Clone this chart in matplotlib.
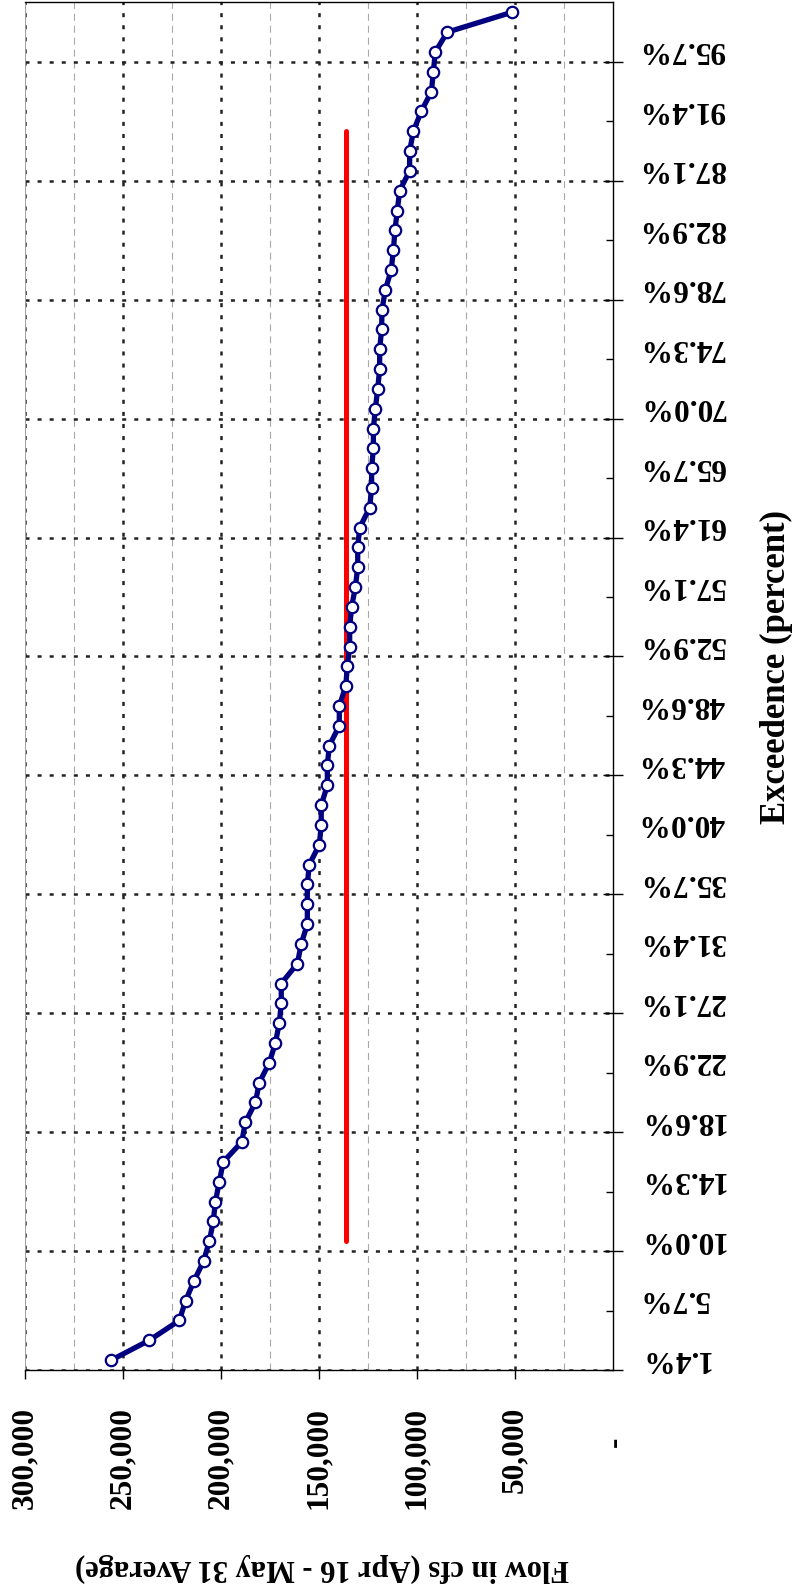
## Flow exceedence chart, drawn sideways (flow runs right-to-left, exceedence bottom-to-top)

import numpy as np
import matplotlib
matplotlib.use('Agg')
from matplotlib import pyplot as plt
from matplotlib.ticker import FixedLocator
from matplotlib.transforms import offset_copy, blended_transform_factory

### Data ###
# Apr 16 - May 31 average flow (cfs), sorted high to low, one value per year
flow = [255800, 236400, 221100, 217900, 213600, 208700, 205800, 203800, 202700, 200700,
        198700, 189300, 187400, 182300, 180300, 175200, 172100, 170100, 169100, 169100,
        160900, 158900, 155800, 155800, 155800, 154800, 149700, 148700, 148700, 145600,
        145600, 144600, 139500, 139500, 136200, 135400, 134200, 134200, 133200, 131300,
        130100, 130100, 129100, 124000, 123000, 123000, 122100, 122100, 121100, 119900,
        118900, 118900, 117900, 117700, 116000, 113000, 111900, 111100, 109900, 108700,
        103600, 103600, 101700, 97700, 92500, 91500, 90500, 84400, 51500]
median_flow = 136200
median_from, median_to = 7, 63      # categories the median line spans (10% .. 90%)

exceed_labels = ['1.4%', '5.7%', '10.0%', '14.3%', '18.6%', '22.9%', '27.1%', '31.4%',
                 '35.7%', '40.0%', '44.3%', '48.6%', '52.9%', '57.1%', '61.4%', '65.7%',
                 '70.0%', '74.3%', '78.6%', '82.9%', '87.1%', '91.4%', '95.7%']
LABEL_EVERY = 3
GRID_EVERY = 6
flow_ticks = [50000, 100000, 150000, 200000, 250000, 300000]
flow_minor = [25000, 75000, 125000, 175000, 225000, 275000]
##############

plt.rcParams['lines.scale_dashes'] = False
plt.rcParams['font.family'] = ['Liberation Serif', 'DejaVu Serif']
plt.rcParams['font.weight'] = 'bold'

n = len(flow)
cat = np.arange(1, n + 1) - 0.5          # category centres (Excel "between tick marks")

fig = plt.figure(figsize=(7.93, 15.92), dpi=100)
ax = fig.add_axes([0.03115, 0.13945, 0.74149, 0.85904])

med_cat = np.arange(median_from, median_to + 1) - 0.5
ax.plot([median_flow] * len(med_cat), med_cat, color='#ff0000', lw=3.6,
        solid_capstyle='round', zorder=3)
ax.plot(flow, cat, color='#000080', lw=3.8, marker='o', ms=8.2, mfc='white',
        mec='#000080', mew=1.6, zorder=4, solid_joinstyle='round')

ax.set_xlim(300000, 0)
ax.set_ylim(0, n)

## ticks
ax.xaxis.set_major_locator(FixedLocator(flow_ticks))
ax.xaxis.set_minor_locator(FixedLocator(flow_minor))
ax.set_xticklabels([f"{v:,}" for v in flow_ticks])
ax.tick_params(axis='x', which='major', direction='out', length=6.5, width=1,
               pad=20, labelsize=22.5, labelrotation=90)
ax.tick_params(axis='x', which='minor', length=0)

ax.yaxis.tick_right()
ax.yaxis.set_major_locator(FixedLocator(np.arange(0, n, GRID_EVERY)))
ax.yaxis.set_minor_locator(FixedLocator(np.arange(LABEL_EVERY, n, GRID_EVERY)))
ax.tick_params(axis='y', which='major', direction='inout', length=13.7, width=1,
               labelright=False)
ax.tick_params(axis='y', which='minor', direction='in', length=4.8, width=1,
               labelright=False)

## grid
dotted = (0, (2.9, 5.8))
ax.set_axisbelow(True)
ax.grid(True, which='major', axis='both', color='#222222', lw=1.8, linestyle=dotted)
ax.grid(True, which='minor', axis='x', color='#a8a8a8', lw=0.8, linestyle=(0, (5, 3.6)))
ax.grid(False, which='minor', axis='y')

for side in ['right', 'bottom', 'top']:
    ax.spines[side].set_color('black')
    ax.spines[side].set_linewidth(1.0)
ax.spines['left'].set_color('#a0a0a0')
ax.spines['left'].set_linewidth(0.7)

## zero label shown as a dash (accounting format)
zero_tr = offset_copy(ax.get_xaxis_transform(), fig=fig, x=3, y=-67, units='dots')
ax.text(0, 0, '-', transform=zero_tr, rotation=90, fontsize=22.5,
        ha='center', va='top')

## exceedence labels, upside down, centred on their category
lab_tr = offset_copy(blended_transform_factory(ax.transAxes, ax.transData),
                     fig=fig, x=26, y=2, units='dots')
for k, lab in enumerate(exceed_labels):
    ax.text(1, k * LABEL_EVERY + 0.5, lab, transform=lab_tr, rotation=180,
            fontsize=22.5, ha='left', va='center')

fig.text(776 / 793, 1 - 667 / 1592, 'Exceedence (percent)', rotation=90,
         fontsize=25, ha='center', va='center')
fig.text(322 / 793, 1 - 1568 / 1592, 'Flow in cfs (Apr 16 - May 31 Average)',
         rotation=180, fontsize=22, ha='center', va='center')

fig.savefig('out.png', dpi=100)
